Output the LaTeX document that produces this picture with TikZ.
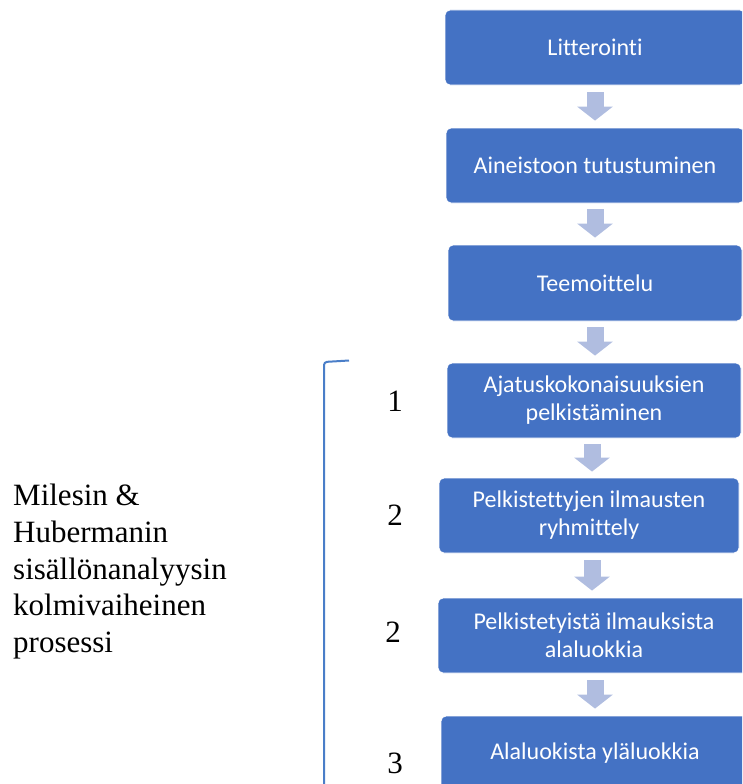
\documentclass[tikz,border=0pt]{standalone}
\usepackage{fontspec}
\setmainfont{Liberation Serif}
\newfontfamily\carl[Ligatures={NoCommon}]{Carlito}
\usetikzlibrary{arrows.meta}
\definecolor{boxblue}{RGB}{68,114,196}
\definecolor{arrblue}{RGB}{176,189,224}
\definecolor{brblue}{RGB}{74,126,200}
\tikzset{
  stepbox/.style={rectangle, rounded corners=5pt, fill=boxblue, draw=white, line width=0.8pt,
    text=white, align=center, inner sep=0pt, font=\carl\fontsize{24}{28}\selectfont},
  blockarr/.style={draw=arrblue, line width=17pt, line cap=butt,
    -{Triangle[width=35pt,length=14pt]}},
  numlabel/.style={anchor=base, inner sep=0pt, font=\fontsize{31}{36}\selectfont},
}
\begin{document}
\begin{tikzpicture}[x=1pt,y=-1pt]
\useasboundingbox (0,0) rectangle (742,784);
\clip (0,0) rectangle (742,784);
% boxes
\node[stepbox, minimum width=300pt, minimum height=75pt] (b1) at (595,47.5) {Litterointi};
\node[stepbox, minimum width=298pt, minimum height=75pt] (b2) at (595,165.5) {Aineistoon tutustuminen};
\node[stepbox, minimum width=294pt, minimum height=76pt] (b3) at (595,283) {Teemoittelu};
\node[stepbox, minimum width=294pt, minimum height=75pt] (b4) at (594,400.5) {Ajatuskokonaisuuksien\\pelkistäminen};
\node[stepbox, minimum width=300pt, minimum height=75pt] (b5) at (589,515.5) {Pelkistettyjen ilmausten\\ryhmittely};
\node[stepbox, minimum width=312pt, minimum height=75pt] (b6) at (594,635.5) {Pelkistetyistä ilmauksista\\alaluokkia};
\node[stepbox, minimum width=308pt, minimum height=75pt] (b7) at (595,753.5) {Alaluokista yläluokkia};
% arrow end points
\coordinate (s1) at (b1.south);  \coordinate (e1) at (b1.south |- b2.north);
\coordinate (s2) at (b2.south);  \coordinate (e2) at (b2.south |- b3.north);
\coordinate (s3) at (b3.south);  \coordinate (e3) at (b3.south |- b4.north);
\coordinate (s4) at ([xshift=-2pt]b4.south);  \coordinate (e4) at (s4 |- b5.north);
\coordinate (s5) at ([xshift=3pt]b5.south);   \coordinate (e5) at (s5 |- b6.north);
\coordinate (s6) at ([xshift=1pt]b6.south);   \coordinate (e6) at (s6 |- b7.north);
% arrows
\draw[blockarr] ([yshift=-7pt]s1) -- ([yshift=7pt]e1);
\draw[blockarr] ([yshift=-6pt]s2) -- ([yshift=7pt]e2);
\draw[blockarr] ([yshift=-6pt]s3) -- ([yshift=7pt]e3);
\draw[blockarr] ([yshift=-6pt]s4) -- ([yshift=6pt]e4);
\draw[blockarr] ([yshift=-7pt]s5) -- ([yshift=7pt]e5);
\draw[blockarr] ([yshift=-7pt]s6) -- ([yshift=7pt]e6);
% bracket
\draw[brblue, line width=2pt, rounded corners=3pt] (349,360.5) -- (324,362) -- (324,790);
% numbers
\node[numlabel] (n1) at (395,411.7) {1};
\node[numlabel] (n2) at (395,525) {2};
\node[numlabel] (n3) at (393,642) {2};
\node[numlabel] (n4) at (395,773) {3};
% left label
\node[anchor=north west, inner sep=0pt, align=left, font=\fontsize{31}{36.7}\selectfont] (lbl) at (13,484)
  {Milesin \&\\Hubermanin\\sisällönanalyysin\\kolmivaiheinen\\prosessi};
\end{tikzpicture}
\end{document}
